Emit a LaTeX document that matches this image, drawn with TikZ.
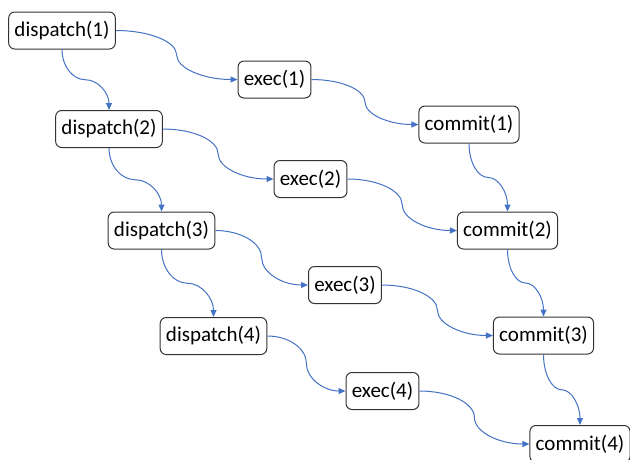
\documentclass[tikz,border=0pt]{standalone}
\usepackage{fontspec}
\setmainfont{Carlito}
\usetikzlibrary{arrows.meta,calc}

\tikzset{
  stage/.style={draw=black!80, line width=1pt, rounded corners=6pt, fill=white,
    inner xsep=5.8pt, inner ysep=4pt, minimum height=37pt,
    font=\fontsize{21}{25}\selectfont},
  conn/.style={draw={rgb,255:red,68;green,114;blue,196}, line width=1pt,
    -{Triangle[length=7pt,width=6pt]}},
  % curved connector leaving and entering horizontally
  hc/.style={to path={let \p1=(\tikztostart), \p2=(\tikztotarget),
      \p3=($(\p1)!0.5!(\p2)$) in
      .. controls ({\x1+0.55*(\x3-\x1)},\y1) and (\x3,{\y3+0.55*(\y1-\y3)}) .. (\p3)
      .. controls (\x3,{\y3+0.55*(\y2-\y3)}) and ({\x2+0.55*(\x3-\x2)},\y2) .. (\p2)}},
  % curved connector leaving and entering vertically
  vc/.style={to path={let \p1=(\tikztostart), \p2=(\tikztotarget),
      \p3=($(\p1)!0.5!(\p2)$) in
      .. controls (\x1,{\y1+0.55*(\y3-\y1)}) and ({\x3+0.55*(\x1-\x3)},\y3) .. (\p3)
      .. controls ({\x3+0.55*(\x2-\x3)},\y3) and (\x2,{\y2+0.55*(\y3-\y2)}) .. (\p2)}}
}

\begin{document}
\begin{tikzpicture}[x=1pt,y=-1pt]
\useasboundingbox (0,0) rectangle (630,459);

% dispatch stages
\node[stage] (d1) at (62,30.5)   {dispatch(1)};
\node[stage] (d2) at (109,129)   {dispatch(2)};
\node[stage] (d3) at (161.5,230.5) {dispatch(3)};
\node[stage] (d4) at (213.5,336) {dispatch(4)};

% exec stages
\node[stage] (e1) at (274.5,79.5) {exec(1)};
\node[stage] (e2) at (310.5,179)  {exec(2)};
\node[stage] (e3) at (345,285)    {exec(3)};
\node[stage] (e4) at (382.5,391)  {exec(4)};

% commit stages
\node[stage] (c1) at (469,124.5)   {commit(1)};
\node[stage] (c2) at (507.5,230.5) {commit(2)};
\node[stage] (c3) at (543.5,335.5) {commit(3)};
\node[stage] (c4) at (580,444)     {commit(4)};

% dispatch order
\draw[conn] (d1.south) to[vc] (d2.north);
\draw[conn] (d2.south) to[vc] (d3.north);
\draw[conn] (d3.south) to[vc] (d4.north);

% dispatch -> exec
\draw[conn] (d1.east) to[hc] (e1.west);
\draw[conn] (d2.east) to[hc] (e2.west);
\draw[conn] (d3.east) to[hc] (e3.west);
\draw[conn] (d4.east) to[hc] (e4.west);

% exec -> commit
\draw[conn] (e1.east) to[hc] (c1.west);
\draw[conn] (e2.east) to[hc] (c2.west);
\draw[conn] (e3.east) to[hc] (c3.west);
\draw[conn] (e4.east) to[hc] (c4.west);

% commit order
\draw[conn] (c1.south) to[vc] (c2.north);
\draw[conn] (c2.south) to[vc] (c3.north);
\draw[conn] (c3.south) to[vc] (c4.north);
\end{tikzpicture}
\end{document}
